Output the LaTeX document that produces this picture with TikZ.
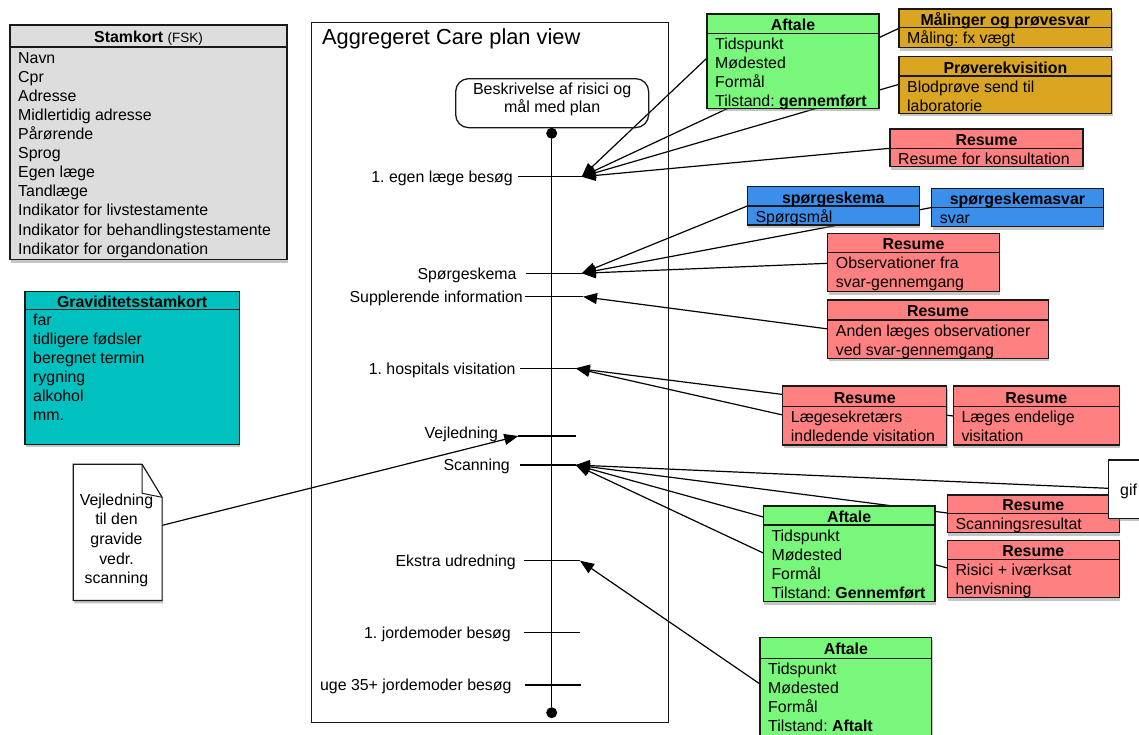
\documentclass[tikz,border=0pt]{standalone}
\usepackage{fontspec}
\setmainfont{Liberation Sans}
\usetikzlibrary{arrows.meta,shadows,calc}

\definecolor{cardgray}{RGB}{221,221,221}
\definecolor{cardteal}{RGB}{0,192,192}
\definecolor{cardgreen}{RGB}{120,247,122}
\definecolor{cardgold}{RGB}{218,166,34}
\definecolor{cardred}{RGB}{255,128,128}
\definecolor{cardblue}{RGB}{59,142,234}
\definecolor{boxline}{RGB}{25,25,25}

\pgfdeclarelayer{paper}
\pgfdeclarelayer{wires}
\pgfsetlayers{paper,wires,main}

\frenchspacing
\newcommand{\txt}{\fontsize{15.9}{19.1}\selectfont}

\tikzset{
  card/.style={draw=boxline, line width=1.5pt, inner sep=0pt, outer sep=0pt,
    anchor=north west,
    drop shadow={shadow xshift=1pt, shadow yshift=-3pt, fill=gray, opacity=0.45}},
  cardsep/.style={draw=boxline, line width=1.3pt},
  cardtitle/.style={font=\txt\bfseries, anchor=base, inner sep=0pt},
  cardbody/.style={font=\txt, anchor=north west, align=left, inner sep=0pt},
  wire/.style={line width=1.2pt, draw=black},
  tip/.style={wire, -{Triangle[length=14pt,width=11pt]}},
  tick/.style={line width=1.2pt, draw=black},
  ticklabel/.style={font=\txt, anchor=base east, inner sep=0pt},
  dot/.style={circle, fill=black, inner sep=0pt, minimum size=11pt},
}

% \card{name}{left}{top}{header rule}{right}{bottom}{fill}{title}{lines}
\newcommand{\card}[9]{%
  \node[card, fill=#7, minimum width={(#5)-(#2)}, minimum height={(#6)-(#3)}] (#1) at (#2,#3) {};
  \draw[cardsep] (#2,#4) -- (#5,#4);
  \node[cardtitle] (#1-title) at ({((#2)+(#5))/2},{((#3)+(#4))/2+6.8}) {#8};
  \node[cardbody] (#1-body) at ({(#2)+8},{(#4)+2.6}) {\strut#9};
}

\begin{document}
\begin{tikzpicture}[x=1pt,y=-1pt]
\useasboundingbox (0,0) rectangle (1139,734);
\clip (0,0) rectangle (1139,734);
\begin{pgfonlayer}{paper}
  \fill[white] (0,0) rectangle (1139,734);
\end{pgfonlayer}

% ---- master data cards
\card{stam}{10}{25}{47}{287}{259.5}{cardgray}{Stamkort {\mdseries\fontsize{13.5}{15}\selectfont(FSK)}}{Navn\\Cpr\\Adresse\\Midlertidig adresse\\Pårørende\\Sprog\\Egen læge\\Tandlæge\\Indikator for livstestamente\\Indikator for behandlingstestamente\\Indikator for organdonation}
\card{grav}{25}{291.7}{309.3}{239.3}{444.3}{cardteal}{Graviditetsstamkort}{far\\tidligere fødsler\\beregnet termin\\rygning\\alkohol\\mm.}

% ---- care plan frame
\node[draw=boxline, line width=1.3pt, inner sep=0pt, minimum width=357pt, minimum height=700pt, anchor=north west] (plan) at (311,22) {};
\node[font=\fontsize{21.8}{25}\selectfont, anchor=base west, inner sep=0pt] (plantitle) at (322,44.3) {Aggregeret Care plan view};

\node[draw=boxline, line width=1.3pt, rounded corners=13pt, inner sep=0pt, minimum width=193pt, minimum height=49pt, anchor=north west] (goal) at (455,78) {};
\node[font=\fontsize{16}{18}\selectfont, align=center, inner sep=0pt] (goaltext) at ([yshift=3.3pt]goal.center) {Beskrivelse af risici og\\mål med plan};

\node[dot] (start) at (551.7,133.3) {};
\node[dot] (end) at (551.7,712.7) {};
\draw[tick] (start) -- (end);

% ---- timeline ticks
\coordinate (t1a) at (518.3,176.7); \coordinate (t1b) at (581.7,176.7);
\coordinate (t2a) at (525.7,273.3); \coordinate (t2b) at (581.7,273.3);
\coordinate (t3a) at (525,296.7);   \coordinate (t3b) at (583,296.7);
\coordinate (t4a) at (520,368.3);   \coordinate (t4b) at (575.7,368.3);
\coordinate (t5a) at (518.3,436);   \coordinate (t5b) at (575.7,436);
\coordinate (t6a) at (520,465);     \coordinate (t6b) at (575.7,465);
\coordinate (t7a) at (524.3,560.7); \coordinate (t7b) at (580,560.7);
\coordinate (t8a) at (524.3,632.7); \coordinate (t8b) at (580,632.7);
\coordinate (t9a) at (525,685);     \coordinate (t9b) at (581,685);
\foreach \i in {1,...,9} { \draw[tick] (t\i a) -- (t\i b); }

\node[ticklabel] (l1) at (513,182.4) {1. egen læge besøg};
\node[ticklabel] (l2) at (516.7,279) {Spørgeskema};
\node[ticklabel] (l3) at (523,302.4) {Supplerende information};
\node[ticklabel] (l4) at (515.7,374) {1. hospitals visitation};
\node[ticklabel] (l5) at (498.3,438.3) {Vejledning};
\node[ticklabel] (l6) at (510,470.7) {Scanning};
\node[ticklabel] (l7) at (516,566.4) {Ekstra udredning};
\node[ticklabel] (l8) at (511,638.4) {1. jordemoder besøg};
\node[ticklabel] (l9) at (511.7,690.7) {uge 35+ jordemoder besøg};

% ---- clinical documents
\card{aft1}{707}{14}{33.3}{879}{108.3}{cardgreen}{Aftale}{Tidspunkt\\Mødested\\Formål\\Tilstand: \textbf{gennemført}}
\card{maal}{899}{9}{27.7}{1111.7}{47.7}{cardgold}{Målinger og prøvesvar}{Måling: fx vægt}
\card{rekv}{899}{56.7}{76}{1111.7}{113.3}{cardgold}{Prøverekvisition}{Blodprøve send til\\laboratorie}
\card{res1}{890}{129}{148.3}{1083}{166.7}{cardred}{Resume}{Resume for konsultation}
\card{spg}{747.3}{186.7}{206}{919.3}{225}{cardblue}{spørgeskema}{Spørgsmål}
\card{svar}{931.7}{188.3}{207.7}{1103.3}{226.7}{cardblue}{spørgeskemasvar}{svar}
\card{res2}{827.7}{233.3}{252.7}{999.3}{291.7}{cardred}{Resume}{Observationer fra\\svar-gennemgang}
\card{res3}{827.7}{300}{320}{1048.3}{358.3}{cardred}{Resume}{Anden læges observationer\\ved svar-gennemgang}
\card{res4}{782.7}{386}{406.7}{946.7}{445}{cardred}{Resume}{Lægesekretærs\\indledende visitation}
\card{res5}{953.3}{386}{406.7}{1119.3}{445}{cardred}{Resume}{Læges endelige\\visitation}
\card{aft2}{763.3}{506}{525}{935}{601.7}{cardgreen}{Aftale}{Tidspunkt\\Mødested\\Formål\\Tilstand: \textbf{Gennemført}}
\card{res6}{947.3}{495}{513.3}{1119.3}{532.7}{cardred}{Resume}{Scanningsresultat}
\card{res7}{947.3}{540.7}{559.3}{1119.3}{597.7}{cardred}{Resume}{Risici + iværksat\\henvisning}
\card{aft3}{760}{637.3}{658.3}{931.7}{750}{cardgreen}{Aftale}{Tidspunkt\\Mødested\\Formål\\Tilstand: \textbf{Aftalt}}

% attached image file
\node[card, fill=white, minimum width=50pt, minimum height=58.3pt] (gif) at (1108.3,460) {};
\node[font=\txt, anchor=base west, inner sep=0pt] (giftext) at (1120,495) {gif};

% ---- leaflet (dog-eared page)
\node[inner sep=0pt, minimum width=88.4pt, minimum height=135.7pt, anchor=north west] (note) at (73.3,464.3) {};
\filldraw[fill=white, draw=boxline, line width=1.2pt,
  drop shadow={shadow xshift=1pt, shadow yshift=-3pt, fill=gray, opacity=0.45}]
  (note.north west) -- ([xshift=-20pt]note.north east) -- ([yshift=-33pt]note.north east)
  -- (note.south east) -- (note.south west) -- cycle;
\draw[boxline, line width=1pt] ([xshift=-20pt]note.north east) -- ([xshift=-20pt,yshift=-29pt]note.north east) -- ([yshift=-33pt]note.north east);
\node[font=\fontsize{15.9}{19.6}\selectfont, align=center, anchor=north, inner sep=0pt] (notetext) at (116.5,491.3) {\strut Vejledning\\til den\\gravide\\vedr.\\scanning};

% ---- attachment points on the document cards
\coordinate (aft1-w) at (707,58);
\coordinate (maal-w) at (899,28.3);
\coordinate (rekv-w) at (899,84.3);
\coordinate (res1-w) at (890,148.3);
\coordinate (spg-w)  at (747.3,206);
\coordinate (svar-w) at (931.7,207.5);
\coordinate (res2-w) at (827.7,263.3);
\coordinate (res3-w) at (828.3,329);
\coordinate (res4-w) at (782.7,415);
\coordinate (res5-w) at (953.3,416);
\coordinate (gif-w)  at (1108.3,488.3);
\coordinate (res6-w) at (947.3,513);
\coordinate (res7-w) at (947.3,568);
\coordinate (aft2-w) at (763.3,553);
\coordinate (aft3-w) at (760,684);
\coordinate (note-e) at ([yshift=7pt]note.east);

\begin{pgfonlayer}{wires}
  \foreach \s in {aft1-w,maal-w,rekv-w,res1-w} { \draw[tip] (\s) -- (t1b); }
  \foreach \s in {spg-w,svar-w,res2-w} { \draw[tip] (\s) -- (t2b); }
  \draw[tip] (res3-w) -- (t3b);
  \foreach \s in {res4-w,res5-w} { \draw[tip] (\s) -- (t4b); }
  \foreach \s in {gif-w,res6-w,res7-w,aft2-w} { \draw[tip] (\s) -- (t6b); }
  \draw[tip] (aft3-w) -- (t7b);
  \draw[tip] (note-e) -- (t5a);
\end{pgfonlayer}
\end{tikzpicture}
\end{document}
